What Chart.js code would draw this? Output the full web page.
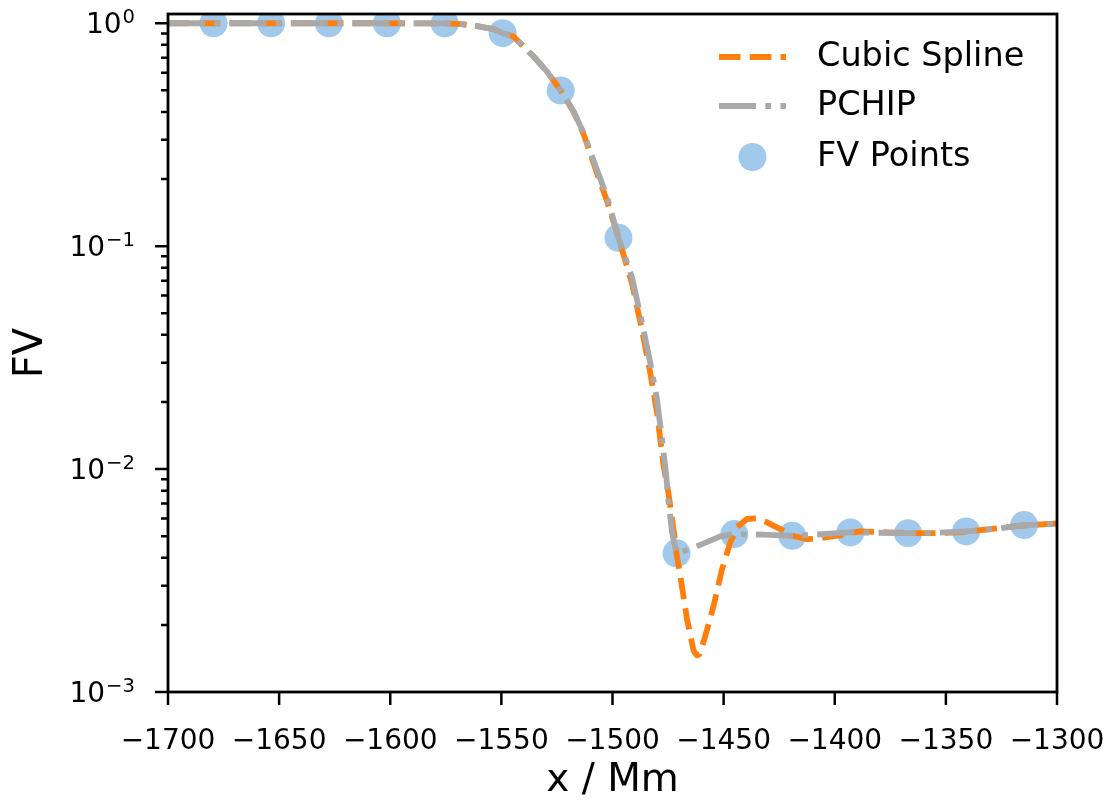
<!DOCTYPE html>
<html>
<head>
<meta charset="utf-8">
<script src="https://cdn.jsdelivr.net/npm/chart.js@4.4.1/dist/chart.umd.min.js"></script>
<style>
  html, body { margin: 0; padding: 0; background: #fff; }
  #wrap { width: 1111px; height: 800px; }
</style>
</head>
<body>
<div id="wrap"><canvas id="fvChart" width="1111" height="800"></canvas></div>
<script>
// ==========================================
// 1. DATA
// ==========================================
// FV sample points
const pointX = [-1679.5, -1653.6, -1627.6, -1601.5, -1575.5, -1549.4, -1523.3, -1497.3,
                -1471.2, -1445.2, -1419.1, -1393.0, -1367.0, -1340.9, -1314.8];
const pointY = [1.0, 1.0, 1.0, 1.0, 0.998, 0.902, 0.499, 0.109,
                0.00419, 0.00511, 0.00502, 0.0052, 0.00516, 0.00525, 0.00561];

// PCHIP curve, traced
const pchipX = [-1700, -1679.5, -1653.6, -1627.6, -1601.5, -1575.5, -1568, -1561, -1553.5, -1549.4,
                -1544.5, -1535.5, -1529.5, -1523.3, -1517.5, -1513.0, -1507.0, -1502.5, -1497.3,
                -1491.2, -1486.7, -1483.0, -1480.0, -1477.7, -1475.8, -1474.8, -1473.2, -1471.2,
                -1465.0, -1451.5, -1445.2, -1432, -1419.1, -1406, -1393.0, -1380,
                -1367.0, -1354, -1340.9, -1327, -1314.8, -1300];
const pchipY = [1.0, 1.0, 1.0, 1.0, 1.0, 0.998, 0.99, 0.97, 0.94, 0.902,
                0.871, 0.709, 0.607, 0.499, 0.402, 0.322, 0.220, 0.167, 0.109,
                0.0723, 0.0453, 0.0300, 0.0206, 0.0136, 0.0093, 0.0071, 0.0052, 0.00419,
                0.00438, 0.00499, 0.00511, 0.00508, 0.00502, 0.00510, 0.0052, 0.00518,
                0.00516, 0.00518, 0.00525, 0.0054, 0.00561, 0.00567];

// Cubic spline curve, traced
const splineX = [-1700, -1679.5, -1653.6, -1627.6, -1601.5, -1575.5, -1568, -1561, -1553.5, -1549.4,
                 -1544.5, -1535.5, -1529.5, -1523.3, -1517.5, -1513.0, -1507.0, -1502.5, -1497.3,
                 -1491.2, -1486.7, -1483.0, -1480.0, -1477.0, -1474.9, -1472.0, -1471.2, -1469.5,
                 -1466.5, -1463.5, -1462.0, -1460.8, -1458.2, -1454.5, -1450.7, -1447.0, -1445.2,
                 -1444.0, -1439.5, -1435.0, -1430.5, -1424.5, -1419.1, -1412.5, -1406.5, -1397.5,
                 -1388.5, -1376.5, -1367.0, -1355.5, -1343.5, -1330.0, -1316.5, -1300];
const splineY = [1.0, 1.0, 1.0, 1.0, 1.0, 0.998, 0.99, 0.97, 0.94, 0.902,
                 0.871, 0.709, 0.607, 0.499, 0.40, 0.318, 0.213, 0.160, 0.109,
                 0.068, 0.042, 0.027, 0.018, 0.0103, 0.0079, 0.0049, 0.00419, 0.00332,
                 0.00213, 0.00153, 0.00146, 0.00148, 0.00179, 0.00244, 0.00356, 0.00469, 0.00511,
                 0.00548, 0.00597, 0.00601, 0.00577, 0.00538, 0.00502, 0.00485, 0.00489, 0.00506,
                 0.00526, 0.0052, 0.00516, 0.00516, 0.0052, 0.00538, 0.00557, 0.0057];

// Axis ticks
const xTicks = [-1700, -1650, -1600, -1550, -1500, -1450, -1400, -1350, -1300];
const yMajorTicks = [0.001, 0.01, 0.1, 1];
const yMajorExps = ['\u22123', '\u22122', '\u22121', '0'];
const yMinorSteps = [2, 3, 4, 5, 6, 7, 8, 9];

const toXY = (xs, ys) => xs.map((x, i) => ({ x: x, y: ys[i] }));

// ==========================================
// 2. FRAME, TICK MARKS, Y LABELS, LEGEND
// ==========================================
const isMajorY = v => yMajorTicks.some(t => Math.abs(t - v) / t < 1e-6);

const framePlugin = {
  id: 'framePlugin',
  afterDraw(chart) {
    const { ctx, chartArea: a, scales: { x, y } } = chart;
    ctx.save();
    ctx.strokeStyle = '#000';
    ctx.lineWidth = 2.8;
    ctx.strokeRect(a.left, a.top, a.right - a.left, a.bottom - a.top);

    // tick marks, outward like matplotlib
    ctx.lineWidth = 2.5;
    ctx.beginPath();
    xTicks.forEach(v => {
      const px = x.getPixelForValue(v);
      ctx.moveTo(px, a.bottom);
      ctx.lineTo(px, a.bottom + 13);
    });
    y.ticks.forEach(t => {
      const py = y.getPixelForValue(t.value);
      const len = isMajorY(t.value) ? 13 : 7;
      ctx.moveTo(a.left, py);
      ctx.lineTo(a.left - len, py);
    });
    ctx.stroke();

    // y labels as 10 with a raised exponent
    ctx.fillStyle = '#000';
    ctx.textBaseline = 'alphabetic';
    ctx.textAlign = 'right';
    const labelRight = a.left - 33;
    yMajorTicks.forEach((v, i) => {
      const py = y.getPixelForValue(v);
      ctx.font = "19.6px 'DejaVu Sans'";
      const ew = ctx.measureText(yMajorExps[i]).width;
      ctx.fillText(yMajorExps[i], labelRight, py);
      ctx.font = "28px 'DejaVu Sans'";
      ctx.fillText('10', labelRight - ew - 1, py + 10);
    });

    // legend, top right inside the axes
    const ds = chart.data.datasets;
    const rows = [ds[1], ds[0], ds[2]];   // spline, pchip, points
    const x0 = 719, x1 = 786, tx = 817;
    const rowY = [57, 106, 157];
    ctx.font = "33.5px 'DejaVu Sans'";
    ctx.textBaseline = 'middle';
    ctx.textAlign = 'left';
    rows.forEach((d, i) => {
      const yy = rowY[i];
      if (d.showLine) {
        ctx.strokeStyle = d.borderColor;
        ctx.lineWidth = d.borderWidth;
        ctx.lineCap = 'butt';
        ctx.setLineDash(d.borderDash);
        ctx.beginPath();
        ctx.moveTo(x0, yy);
        ctx.lineTo(x1, yy);
        ctx.stroke();
        ctx.setLineDash([]);
      } else {
        ctx.fillStyle = d.backgroundColor;
        ctx.beginPath();
        ctx.arc((x0 + x1) / 2, yy, d.pointRadius, 0, Math.PI * 2);
        ctx.fill();
      }
      ctx.fillStyle = '#000';
      ctx.fillText(d.label, tx, yy);
    });
    ctx.restore();
  }
};

// ==========================================
// 3. CHART
// ==========================================
Chart.defaults.font.family = "'DejaVu Sans'";
Chart.defaults.color = '#000';

new Chart(document.getElementById('fvChart').getContext('2d'), {
  type: 'scatter',
  data: {
    datasets: [
      {
        label: 'PCHIP', data: toXY(pchipX, pchipY), showLine: true, order: 1,
        borderColor: '#a9a9a9', borderWidth: 5.8, borderDash: [37, 9.3, 5.8, 9.3],
        borderCapStyle: 'butt', borderJoinStyle: 'round', pointRadius: 0, tension: 0
      },
      {
        label: 'Cubic Spline', data: toXY(splineX, splineY), showLine: true, order: 2,
        borderColor: '#ff7f0e', borderWidth: 5.8, borderDash: [21.5, 9.3],
        borderCapStyle: 'butt', borderJoinStyle: 'round', pointRadius: 0, tension: 0
      },
      {
        label: 'FV Points', data: toXY(pointX, pointY), showLine: false, order: 3,
        backgroundColor: '#a1c9ec', borderWidth: 0, pointRadius: 14, pointHoverRadius: 14
      }
    ]
  },
  options: {
    responsive: false,
    animation: false,
    devicePixelRatio: 1,
    layout: { padding: { top: 14, right: 54, left: 0, bottom: 0 } },
    plugins: { legend: { display: false }, tooltip: { enabled: false } },
    scales: {
      x: {
        type: 'linear', min: -1700, max: -1300,
        grid: { display: false },
        border: { display: false },
        afterBuildTicks: s => { s.ticks = xTicks.map(v => ({ value: v })); },
        afterFit: s => { s.height = 108; s.paddingLeft = 0; s.paddingRight = 0; },
        ticks: {
          autoSkip: false, maxRotation: 0, padding: 25,
          font: { size: 28 },
          callback: v => (v < 0 ? '\u2212' + Math.abs(v) : String(v))
        },
        title: {
          display: true, text: 'x / Mm', font: { size: 39, lineHeight: 1 },
          padding: { top: 0, bottom: 0 }
        }
      },
      y: {
        type: 'logarithmic', min: 0.001, max: 1.1,
        grid: { display: false },
        border: { display: false },
        afterBuildTicks: s => {
          const vals = [];
          yMajorTicks.forEach((d, i) => {
            vals.push(d);
            if (i < yMajorTicks.length - 1) yMinorSteps.forEach(m => vals.push(d * m));
          });
          s.ticks = vals.map(v => ({ value: v }));
        },
        afterFit: s => { s.width = 168; s.paddingTop = 0; s.paddingBottom = 0; },
        ticks: {
          autoSkip: false, padding: 0,
          font: { size: 28, lineHeight: 1 },
          callback: () => ''
        },
        title: {
          display: true, text: 'FV', font: { size: 40, lineHeight: 1 },
          padding: { top: 12, bottom: 0 }
        }
      }
    }
  },
  plugins: [framePlugin]
});
</script>
</body>
</html>
